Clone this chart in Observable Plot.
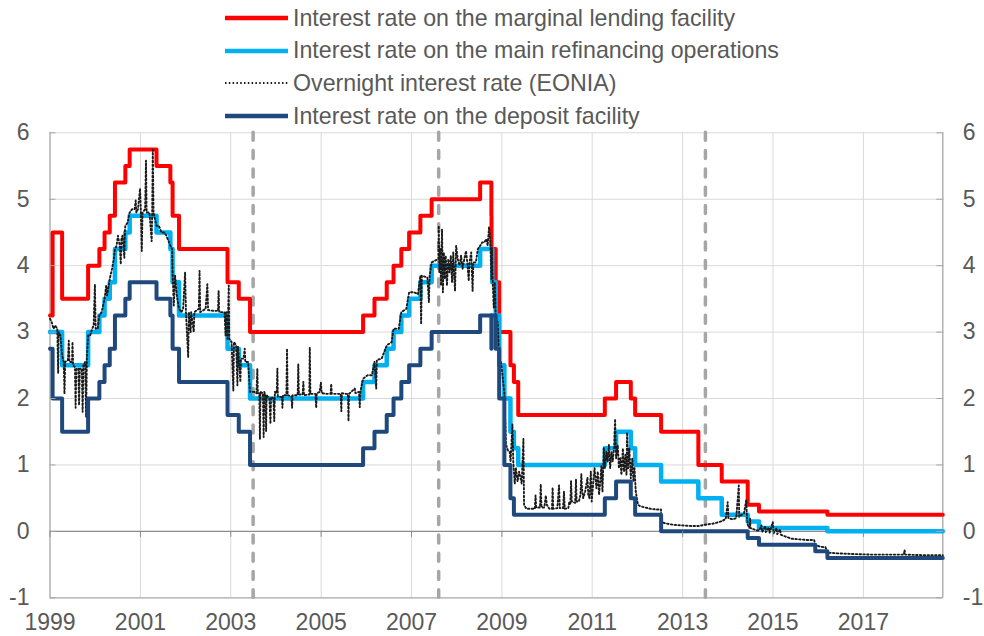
<!DOCTYPE html>
<html><head><meta charset="utf-8">
<script src="https://cdn.jsdelivr.net/npm/d3@7"></script>
<script src="https://cdn.jsdelivr.net/npm/@observablehq/plot@0.6"></script>
<style>
body{margin:0;background:#fff;font-family:"Liberation Sans",Arial,sans-serif;}
#wrap{position:relative;width:984px;height:636px;overflow:hidden}
#legend{position:absolute;left:0;top:0;width:984px;height:130px}
.item{position:absolute;left:225px;height:26px;display:flex;align-items:center;font-size:23.2px;color:#595959;white-space:nowrap}
.item svg{margin-right:5px}
</style></head><body>
<div id="wrap"><div id="chart"></div><div id="legend"></div></div>
<script>
// ---------- data ----------
const xDomain = ["1999-01-01", "2018-10-05"];
const yTicks = [-1, 0, 1, 2, 3, 4, 5, 6];
const xTickYears = [1999, 2001, 2003, 2005, 2007, 2009, 2011, 2013, 2015, 2017];
const eventDates = ["2003-07-01", "2007-08-09", "2013-07-04"];

const seriesNames = [
  "Interest rate on the marginal lending facility",
  "Interest rate on the main refinancing operations",
  "Overnight interest rate (EONIA)",
  "Interest rate on the deposit facility"
];

const mlfDates = ["1999-01-01","1999-01-22","1999-04-09","1999-11-05","2000-02-04","2000-03-17","2000-04-28","2000-06-09","2000-09-01","2000-10-06","2001-05-11","2001-08-31","2001-09-18","2001-11-09","2002-12-06","2003-03-07","2003-06-06","2005-12-06","2006-03-08","2006-06-15","2006-08-09","2006-10-11","2006-12-13","2007-03-14","2007-06-13","2008-07-09","2008-10-08","2008-10-09","2008-11-12","2008-12-10","2009-03-11","2009-04-08","2009-05-13","2011-04-13","2011-07-13","2011-11-09","2011-12-14","2012-07-11","2013-05-08","2013-11-13","2014-06-11","2014-09-10","2016-03-16","2018-10-05"];
const mlfValues = [3.25,4.50,3.50,4.00,4.25,4.50,4.75,5.25,5.50,5.75,5.50,5.25,4.75,4.25,3.75,3.50,3.00,3.25,3.50,3.75,4.00,4.25,4.50,4.75,5.00,5.25,4.75,4.25,3.75,3.00,2.50,2.25,1.75,2.00,2.25,2.00,1.75,1.50,1.00,0.75,0.40,0.30,0.25,0.25];

const mroDates = ["1999-01-01","1999-04-09","1999-11-05","2000-02-04","2000-03-17","2000-04-28","2000-06-09","2000-09-01","2000-10-06","2001-05-11","2001-08-31","2001-09-18","2001-11-09","2002-12-06","2003-03-07","2003-06-06","2005-12-06","2006-03-08","2006-06-15","2006-08-09","2006-10-11","2006-12-13","2007-03-14","2007-06-13","2008-07-09","2008-10-15","2008-11-12","2008-12-10","2009-01-21","2009-03-11","2009-04-08","2009-05-13","2011-04-13","2011-07-13","2011-11-09","2011-12-14","2012-07-11","2013-05-08","2013-11-13","2014-06-11","2014-09-10","2016-03-16","2018-10-05"];
const mroValues = [3.00,2.50,3.00,3.25,3.50,3.75,4.25,4.50,4.75,4.50,4.25,3.75,3.25,2.75,2.50,2.00,2.25,2.50,2.75,3.00,3.25,3.50,3.75,4.00,4.25,3.75,3.25,2.50,2.00,1.50,1.25,1.00,1.25,1.50,1.25,1.00,0.75,0.50,0.25,0.15,0.05,0.00,0.00];

const dfDates = ["1999-01-01","1999-01-22","1999-04-09","1999-11-05","2000-02-04","2000-03-17","2000-04-28","2000-06-09","2000-09-01","2000-10-06","2001-05-11","2001-08-31","2001-09-18","2001-11-09","2002-12-06","2003-03-07","2003-06-06","2005-12-06","2006-03-08","2006-06-15","2006-08-09","2006-10-11","2006-12-13","2007-03-14","2007-06-13","2008-07-09","2008-10-08","2008-10-09","2008-11-12","2008-12-10","2009-01-21","2009-03-11","2009-04-08","2011-04-13","2011-07-13","2011-11-09","2011-12-14","2012-07-11","2014-06-11","2014-09-10","2015-12-09","2016-03-16","2018-10-05"];
const dfValues = [2.75,2.00,1.50,2.00,2.25,2.50,2.75,3.25,3.50,3.75,3.50,3.25,2.75,2.25,1.75,1.50,1.00,1.25,1.50,1.75,2.00,2.25,2.50,2.75,3.00,3.25,2.75,3.25,2.75,2.00,1.00,0.50,0.25,0.50,0.75,0.50,0.25,0.00,-0.10,-0.20,-0.30,-0.40,-0.40];

const eonia = [
["1999-01-01",3.20],["1999-01-15",3.15],["1999-01-29",3.05],["1999-02-12",3.10],["1999-03-01",3.05],["1999-03-08",2.38],["1999-03-12",3.00],["1999-03-26",2.95],["1999-04-09",2.65],["1999-04-22",2.55],["1999-04-28",2.07],["1999-05-04",2.55],["1999-05-26",2.58],["1999-06-02",2.87],["1999-06-07",2.55],["1999-06-28",2.55],["1999-07-02",2.85],["1999-07-07",2.50],["1999-07-22",2.47],["1999-07-27",1.86],["1999-08-02",2.45],["1999-08-18",2.45],["1999-08-24",1.90],["1999-08-30",2.45],["1999-09-15",2.45],["1999-09-22",1.80],["1999-09-28",2.50],["1999-10-12",2.55],["1999-10-20",1.72],["1999-10-26",2.60],["1999-11-05",2.95],["1999-11-22",2.95],["1999-12-08",3.05],["1999-12-20",3.10],["1999-12-30",3.72],
["2000-01-05",3.05],["2000-01-21",3.05],["2000-02-04",3.25],["2000-02-22",3.30],["2000-03-17",3.50],["2000-03-30",3.70],["2000-04-06",3.55],["2000-04-28",3.80],["2000-05-16",3.95],["2000-05-31",4.10],["2000-06-09",4.25],["2000-06-22",4.30],["2000-07-03",4.45],["2000-07-18",4.30],["2000-07-26",4.02],["2000-07-31",4.40],["2000-08-09",4.45],["2000-08-24",4.12],["2000-08-29",4.55],["2000-09-01",4.60],["2000-09-20",4.65],["2000-10-06",4.80],["2000-10-25",4.85],["2000-11-15",4.85],["2000-11-24",4.98],["2000-11-29",4.80],["2000-12-12",4.85],["2000-12-29",5.16],
["2001-01-04",4.85],["2001-01-12",4.22],["2001-01-18",4.80],["2001-02-08",4.85],["2001-02-15",5.58],["2001-02-20",4.80],["2001-03-15",4.80],["2001-04-02",4.37],["2001-04-06",4.80],["2001-04-11",5.74],["2001-04-17",4.80],["2001-05-11",4.60],["2001-05-30",4.60],["2001-06-20",4.50],["2001-07-12",4.50],["2001-07-30",4.45],["2001-08-31",4.30],["2001-09-14",4.25],["2001-09-18",3.90],["2001-09-28",3.40],["2001-10-08",3.85],["2001-10-22",3.55],["2001-11-09",3.35],["2001-11-28",3.30],["2001-12-12",3.35],["2001-12-28",3.90],
["2002-01-04",3.30],["2002-01-22",2.62],["2002-01-28",3.30],["2002-02-11",3.00],["2002-02-15",3.30],["2002-03-08",3.00],["2002-03-13",3.30],["2002-04-18",3.35],["2002-04-24",3.92],["2002-04-29",3.30],["2002-06-12",3.35],["2002-06-26",3.72],["2002-07-02",3.33],["2002-08-14",3.32],["2002-09-20",3.32],["2002-09-25",3.62],["2002-09-30",3.30],["2002-11-12",3.30],["2002-11-20",2.95],["2002-11-26",3.30],["2002-12-06",2.90],["2002-12-16",3.70],["2002-12-20",2.90],
["2003-01-08",2.85],["2003-01-22",2.12],["2003-01-27",2.85],["2003-02-14",2.80],["2003-02-24",2.20],["2003-02-28",2.78],["2003-03-07",2.62],["2003-03-20",2.25],["2003-03-25",2.60],["2003-04-15",2.60],["2003-04-24",2.75],["2003-04-29",2.55],["2003-05-21",2.55],["2003-06-06",2.10],["2003-06-25",2.10],["2003-07-10",2.10],["2003-07-28",2.08],["2003-08-04",2.45],["2003-08-08",2.08],["2003-08-20",2.08],["2003-08-25",1.39],["2003-08-29",2.10],["2003-09-18",2.08],["2003-09-24",1.42],["2003-09-29",2.10],["2003-10-09",2.05],["2003-10-14",1.51],["2003-10-18",2.05],["2003-11-10",2.00],["2003-11-18",1.62],["2003-11-23",2.02],["2003-12-12",2.00],["2003-12-19",1.66],["2003-12-24",2.10],
["2004-01-08",2.08],["2004-01-13",2.45],["2004-01-17",2.03],["2004-02-18",2.02],["2004-02-23",1.86],["2004-02-27",2.05],["2004-03-26",2.05],["2004-03-31",2.75],["2004-04-05",2.05],["2004-05-06",2.03],["2004-05-11",1.86],["2004-05-15",2.05],["2004-06-25",2.05],["2004-06-30",2.52],["2004-07-05",2.06],["2004-08-04",2.06],["2004-08-10",2.25],["2004-08-15",2.05],["2004-09-27",2.06],["2004-10-01",2.77],["2004-10-06",2.07],["2004-11-15",2.07],["2004-11-22",1.86],["2004-11-26",2.08],["2004-12-20",2.10],["2004-12-30",2.24],
["2005-01-05",2.08],["2005-02-15",2.07],["2005-03-18",2.07],["2005-03-23",2.22],["2005-03-28",2.07],["2005-05-15",2.07],["2005-06-08",2.07],["2005-06-13",1.81],["2005-06-17",2.08],["2005-07-20",2.07],["2005-08-05",2.07],["2005-08-10",1.66],["2005-08-14",2.07],["2005-09-30",2.15],["2005-10-05",2.08],["2005-11-03",2.10],["2005-11-09",1.87],["2005-11-14",2.10],["2005-12-06",2.30],
["2006-01-12",2.35],["2006-02-15",2.35],["2006-03-08",2.55],["2006-03-22",2.15],["2006-03-27",2.58],["2006-05-05",2.60],["2006-06-15",2.80],["2006-07-25",2.85],["2006-08-09",3.05],["2006-09-20",3.05],["2006-10-11",3.30],["2006-11-20",3.35],["2006-12-13",3.60],
["2007-01-22",3.60],["2007-02-22",3.57],["2007-03-14",3.85],["2007-03-20",3.12],["2007-03-26",3.85],["2007-05-10",3.82],["2007-05-22",3.45],["2007-05-28",3.85],["2007-06-13",4.05],["2007-07-15",4.08],["2007-08-06",4.10],["2007-08-10",4.60],["2007-08-14",3.90],["2007-08-20",4.25],["2007-08-28",3.70],["2007-09-05",4.55],["2007-09-12",3.60],["2007-09-20",4.20],["2007-09-28",3.80],["2007-10-05",4.15],["2007-10-15",3.70],["2007-10-25",4.10],["2007-11-05",3.90],["2007-11-15",4.15],["2007-11-25",3.75],["2007-12-05",4.20],["2007-12-12",3.85],["2007-12-19",3.62],["2007-12-28",4.30],
["2008-01-10",4.10],["2008-01-25",4.00],["2008-02-06",4.15],["2008-02-18",3.95],["2008-03-03",4.10],["2008-03-17",4.22],["2008-03-27",4.05],["2008-04-08",3.77],["2008-04-14",4.05],["2008-04-28",4.20],["2008-05-09",3.62],["2008-05-15",4.05],["2008-06-05",4.05],["2008-06-20",4.25],["2008-07-09",4.30],["2008-07-25",4.35],["2008-08-12",4.35],["2008-08-28",4.40],["2008-09-08",4.30],["2008-09-19",4.58],["2008-09-29",4.40],["2008-10-08",3.80],["2008-10-13",4.27],["2008-10-17",3.85],["2008-10-27",3.37],["2008-11-05",3.75],["2008-11-12",3.20],["2008-11-28",3.15],["2008-12-10",2.60],["2008-12-24",2.55],
["2009-01-08",2.31],["2009-01-21",2.07],["2009-02-03",1.31],["2009-02-18",1.22],["2009-03-05",1.20],["2009-03-12",1.05],["2009-03-27",1.61],["2009-04-03",1.05],["2009-04-15",0.72],["2009-04-24",0.95],["2009-05-08",0.75],["2009-05-20",0.90],["2009-06-10",0.72],["2009-06-24",1.39],["2009-06-29",0.40],["2009-07-15",0.35],["2009-07-20",0.34],["2009-08-20",0.34],["2009-09-24",0.34],["2009-09-30",0.54],["2009-10-05",0.36],["2009-11-05",0.36],["2009-11-11",0.71],["2009-11-17",0.36],["2009-12-10",0.36],["2009-12-22",0.54],["2009-12-30",0.40],
["2010-01-20",0.34],["2010-02-10",0.34],["2010-02-15",0.66],["2010-02-20",0.34],["2010-03-25",0.35],["2010-04-08",0.69],["2010-04-14",0.35],["2010-05-10",0.35],["2010-05-18",0.60],["2010-05-24",0.34],["2010-06-22",0.35],["2010-06-30",0.45],["2010-07-08",0.40],["2010-07-14",0.76],["2010-07-20",0.45],["2010-08-16",0.43],["2010-08-23",0.78],["2010-08-28",0.45],["2010-09-15",0.45],["2010-09-28",0.55],["2010-10-05",0.86],["2010-10-10",0.65],["2010-10-20",0.50],["2010-11-05",0.60],["2010-11-24",0.81],["2010-11-30",0.55],["2010-12-10",0.50],["2010-12-21",0.90],["2010-12-28",0.45],
["2011-01-10",0.75],["2011-01-20",0.95],["2011-02-04",0.65],["2011-02-15",0.90],["2011-02-25",0.55],["2011-03-07",0.75],["2011-03-16",0.98],["2011-03-25",0.60],["2011-04-05",1.26],["2011-04-13",0.95],["2011-04-26",1.20],["2011-05-06",1.05],["2011-05-16",1.30],["2011-05-26",0.95],["2011-06-06",1.20],["2011-06-16",1.05],["2011-06-28",1.30],["2011-07-05",1.69],["2011-07-13",1.10],["2011-07-26",1.30],["2011-08-05",0.95],["2011-08-16",1.10],["2011-08-25",0.85],["2011-09-06",1.25],["2011-09-15",0.90],["2011-09-26",1.15],["2011-10-05",0.85],["2011-10-10",1.49],["2011-10-18",0.95],["2011-10-28",1.25],["2011-11-09",0.80],["2011-11-21",1.10],["2011-11-30",0.75],["2011-12-09",0.95],["2011-12-19",0.60],["2011-12-28",0.50],
["2012-01-06",0.40],["2012-01-23",0.38],["2012-03-01",0.36],["2012-04-16",0.34],["2012-06-01",0.33],["2012-07-10",0.33],["2012-07-11",0.14],["2012-08-15",0.12],["2012-10-15",0.10],
["2013-01-02",0.09],["2013-03-15",0.08],["2013-05-08",0.08],["2013-07-01",0.10],["2013-09-16",0.12],["2013-10-21",0.14],["2013-11-20",0.16],["2013-12-16",0.19],["2013-12-31",0.44],
["2014-01-06",0.20],["2014-02-10",0.18],["2014-03-10",0.20],["2014-03-31",0.69],["2014-04-03",0.22],["2014-04-22",0.25],["2014-05-12",0.27],["2014-05-30",0.47],["2014-06-04",0.25],["2014-06-11",0.10],["2014-06-25",0.05],["2014-06-30",0.20],["2014-07-03",0.05],["2014-08-15",0.02],["2014-09-10",0.01],["2014-09-30",0.09],["2014-10-06",-0.01],["2014-10-31",0.08],["2014-11-05",-0.01],["2014-11-28",0.06],["2014-12-05",-0.02],["2014-12-31",0.14],
["2015-01-06",-0.03],["2015-01-30",0.05],["2015-02-05",-0.04],["2015-02-27",0.03],["2015-03-06",-0.05],["2015-04-15",-0.08],["2015-06-01",-0.11],["2015-08-01",-0.12],["2015-10-01",-0.13],["2015-11-30",-0.13],["2015-12-09",-0.20],
["2016-01-15",-0.23],["2016-03-01",-0.24],["2016-03-16",-0.32],["2016-06-01",-0.33],["2016-10-03",-0.34],["2017-03-01",-0.35],["2017-11-24",-0.35],["2017-11-30",-0.28],["2017-12-05",-0.35],["2018-06-01",-0.36],["2018-10-05",-0.36]
];

const colors = ["#FF0000", "#00B0F0", "#1A1A1A", "#1F497D"];

// ---------- build ----------
const parse = d3.utcParse("%Y-%m-%d");
const toRows = (dates, values) => dates.map((d, i) => ({date: parse(d), value: values[i]}));
const mlf = toRows(mlfDates, mlfValues);
const mro = toRows(mroDates, mroValues);
const df = toRows(dfDates, dfValues);
const eon = eonia.map(([d, v]) => ({date: parse(d), value: v}));
const xDom = xDomain.map(parse);
const xTicks = xTickYears.map(y => new Date(Date.UTC(y, 0, 1)));
const xGrid = xTicks.slice(1);
const events = eventDates.map(parse);

const W = 984, H = 636;
const mL = 49.5, mR = 41.7, mT = 132.3, mB = 38.7;
const unit = (H - mT - mB) / (yTicks[yTicks.length - 1] - yTicks[0]);
const font = "Liberation Sans, Arial, sans-serif";
const dots = "1.5,2.3";

const chart = Plot.plot({
  width: W, height: H,
  marginLeft: mL, marginRight: mR, marginTop: mT, marginBottom: mB,
  style: {fontFamily: font, fontSize: "23px", color: "#595959", background: "white"},
  x: {type: "utc", domain: xDom},
  y: {domain: [yTicks[0], yTicks[yTicks.length - 1]]},
  marks: [
    Plot.ruleY(yTicks.filter(v => v > 0), {stroke: "#D9D9D9", strokeWidth: 1}),
    Plot.ruleX(xGrid, {stroke: "#D9D9D9", strokeWidth: 1}),
    Plot.ruleY([0], {stroke: "#8C8C8C", strokeWidth: 1.3}),
    Plot.ruleY([yTicks[0]], {stroke: "#A6A6A6", strokeWidth: 1.3}),
    Plot.ruleX(xDom, {stroke: "#A6A6A6", strokeWidth: 1.3}),
    Plot.ruleX(events, {stroke: "#A6A6A6", strokeWidth: 3.5, strokeDasharray: "8,10.3", strokeLinecap: "round"}),
    Plot.line(mlf, {x: "date", y: "value", curve: "step-after", stroke: colors[0], strokeWidth: 4}),
    Plot.line(mro, {x: "date", y: "value", curve: "step-after", stroke: colors[1], strokeWidth: 4.5}),
    Plot.line(eon, {x: "date", y: "value", stroke: colors[2], strokeWidth: 1.9, strokeDasharray: dots}),
    Plot.line(df, {x: "date", y: "value", curve: "step-after", stroke: colors[3], strokeWidth: 4}),
    Plot.axisY(yTicks, {anchor: "left", tickSize: -6, tickPadding: 26.5, stroke: "#A6A6A6", fontSize: 23, tickFormat: d => String(d), label: null}),
    Plot.axisY(yTicks, {anchor: "right", tickSize: -7, tickPadding: 27, stroke: "#A6A6A6", fontSize: 23, tickFormat: d => String(d), label: null}),
    Plot.axisX(xTicks, {anchor: "bottom", tickSize: 0, tickPadding: 16, fontSize: 23, tickFormat: d3.utcFormat("%Y"), label: null}),
    Plot.axisX(xTicks, {anchor: "bottom", tickSize: 6, tickPadding: 0, stroke: "#8C8C8C", dy: -unit, tickFormat: () => "", label: null})
  ]
});
document.getElementById("chart").appendChild(chart);

// ---------- legend ----------
const legend = document.getElementById("legend");
const rowY = [18, 50.5, 83, 116];
seriesNames.forEach((name, i) => {
  const item = document.createElement("div");
  item.className = "item";
  item.style.top = (rowY[i] - 13) + "px";
  const dotted = i === 2;
  item.innerHTML = `<svg width="63" height="8"><line x1="0" y1="4" x2="63" y2="4" stroke="${colors[i]}" stroke-width="${dotted ? 1.9 : 4.5}" ${dotted ? `stroke-dasharray="${dots}"` : ''}/></svg><span>${name}</span>`;
  legend.appendChild(item);
});
</script></body></html>
